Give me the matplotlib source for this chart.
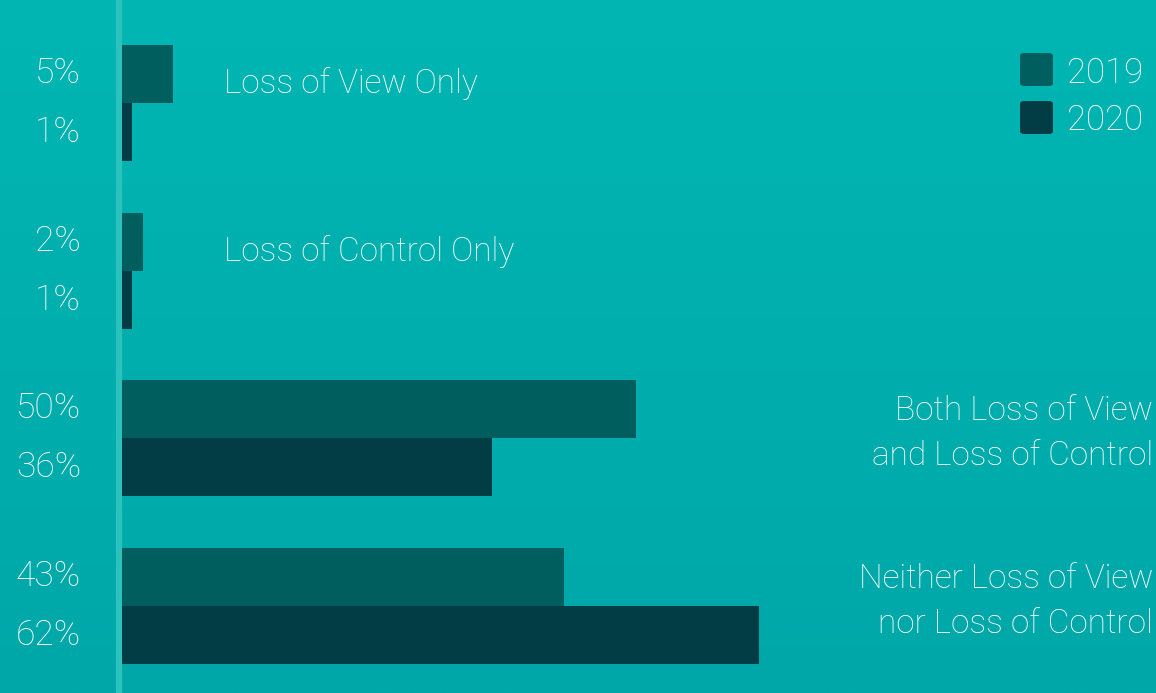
import matplotlib

matplotlib.use("Agg")
import matplotlib.pyplot as plt
import numpy as np
from matplotlib.colors import LinearSegmentedColormap
from matplotlib.patches import FancyBboxPatch

# data
categories = [
    "Loss of View Only",
    "Loss of Control Only",
    "Both Loss of View\nand Loss of Control",
    "Neither Loss of View\nnor Loss of Control",
]
years = ["2019", "2020"]
values_2019 = [5, 2, 50, 43]
values_2020 = [1, 1, 36, 62]

c2019 = "#005e5e"
c2020 = "#023c45"
bg_top = "#00b6b3"
bg_bot = "#00a7a8"
FONT = ["Roboto", "DejaVu Sans"]

PX = 167.7  # pixels per category unit


def main():
    fig = plt.figure(figsize=(11.56, 6.93), dpi=100)

    # background gradient
    bg = fig.add_axes([0, 0, 1, 1])
    grad = np.linspace(0, 1, 256).reshape(-1, 1)
    cmap = LinearSegmentedColormap.from_list("bg", [bg_top, bg_bot])
    bg.imshow(grad, aspect="auto", cmap=cmap, extent=[0, 1, 0, 1], origin="upper")
    bg.set_axis_off()

    ax = fig.add_axes([0, 0, 1, 1])
    ax.patch.set_alpha(0)
    ax.set_axis_off()

    # 122px = 0%, 10.28 px per percent
    ax.set_xlim(-122 / 10.28, (1156 - 122) / 10.28)
    ax.set_ylim((693 - 103) / PX, -103 / PX)

    y = np.arange(len(categories))
    h = 0.346
    ax.barh(y - h / 2, values_2019, height=h, color=c2019, label=years[0])
    ax.barh(y + h / 2, values_2020, height=h, color=c2020, label=years[1])

    # vertical axis line
    ax.axvline(-0.3, color="#2bc2bc", lw=4.5, zorder=0)

    txt = dict(color="white", family=FONT, weight="light")

    for i in range(len(categories)):
        ax.text(-4.0, y[i] - h / 2 + 9 / PX, f"{values_2019[i]}%", ha="right",
                va="baseline", fontsize=25.5, **txt)
        ax.text(-4.0, y[i] + h / 2 + 10 / PX, f"{values_2020[i]}%", ha="right",
                va="baseline", fontsize=25.5, **txt)

    for i, cat in enumerate(categories):
        lines = cat.split("\n")
        if len(lines) == 2:
            for k, line in enumerate(lines):
                ax.text(100.3, y[i] + (-18 + 45 * k) / PX, line, ha="right",
                        va="baseline", fontsize=24, **txt)
        else:
            ax.text(9.9, y[i] - 10 / PX, cat, ha="left", va="baseline",
                    fontsize=24, **txt)

    # legend
    for j, (yr, col) in enumerate(zip(years, [c2019, c2020])):
        top = 53 + j * 48
        box = FancyBboxPatch((1020 / 1156, 1 - (top + 33) / 693), 33 / 1156, 33 / 693,
                             boxstyle="round,pad=0,rounding_size=0.004",
                             transform=fig.transFigure, facecolor=col, edgecolor="none")
        fig.patches.append(box)
        fig.text(1067 / 1156, 1 - (83 + j * 47) / 693, yr, ha="left", va="baseline",
                 fontsize=25, **txt)

    fig.savefig("out.png", dpi=100)
    plt.close(fig)


if __name__ == "__main__":
    main()
